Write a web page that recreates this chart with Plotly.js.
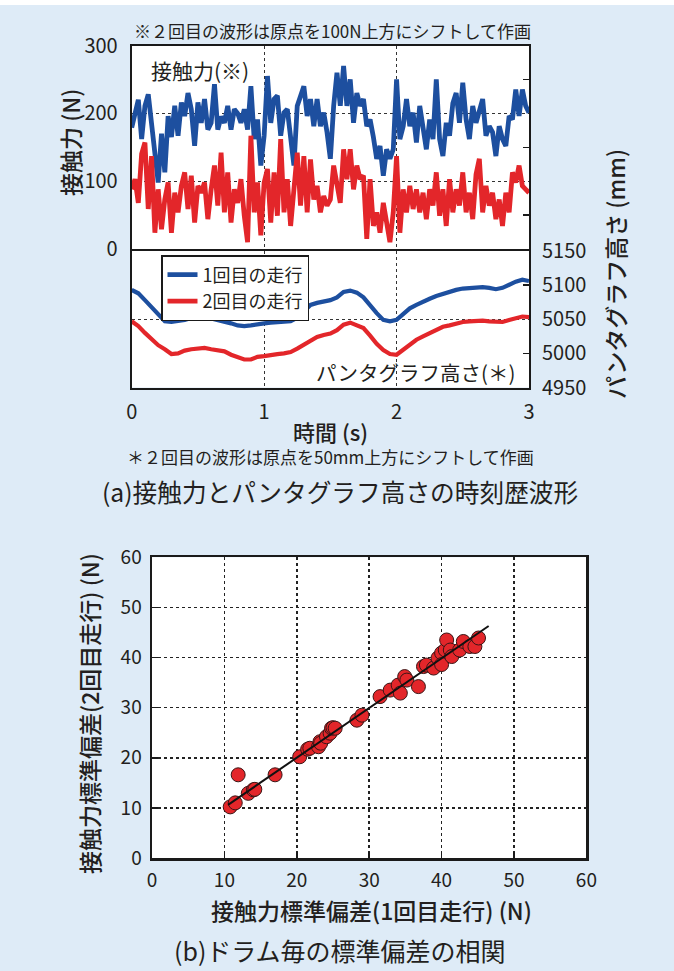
<!DOCTYPE html>
<html>
<head>
<meta charset="utf-8">
<script src="https://cdn.plot.ly/plotly-3.0.1.min.js"></script>
<style>
  html, body { margin: 0; padding: 0; background: #deebf7; }
  #chart { width: 674px; height: 971px; }
</style>
</head>
<body>
<div id="chart"></div>
<script>
// ---- (a) contact force time history, sampled every 0.025 s (N) ----
const forceDt = 0.025;
const forceRun1 = [
  179,200,220,162,211,228,185,150,98,170,
  113,196,165,211,167,216,196,230,206,152,
  216,186,221,176,186,243,176,195,186,211,
  176,206,200,186,206,176,240,162,191,123,
  167,255,186,221,226,167,201,206,162,123,
  211,226,240,196,221,181,221,181,201,172,
  133,211,260,211,270,211,250,186,230,211,
  221,181,191,165,133,152,108,147,133,147,
  250,162,181,221,181,201,157,211,181,147,
  191,162,250,162,137,186,167,215,230,186,
  245,191,162,211,186,205,221,167,181,172,
  137,181,162,152,196,191,235,196,235,211,
  201
];
const forceRun2 = [
  88,103,68,140,157,59,137,24,88,29,
  73,98,24,83,54,93,113,59,108,39,
  93,83,98,44,88,123,64,142,54,113,
  39,88,68,103,49,10,167,54,98,20,
  98,118,39,113,49,162,54,103,34,83,
  142,64,137,54,132,73,93,54,78,64,
  73,123,93,68,147,103,147,88,123,103,
  108,15,103,34,54,24,68,34,10,54,
  137,24,88,54,93,59,88,54,83,44,
  88,64,113,49,88,34,103,54,88,64,
  113,54,83,44,110,133,54,93,64,83,
  44,73,34,83,54,113,98,123,93,88,
  83
];

// ---- (a) pantograph height, sampled every 0.05 s (mm) ----
const heightDt = 0.05;
const heightRun1 = [
  5093,5088,5078,5068,5056,5047,5046,5047,5049,5052,
  5053,5054,5051,5049,5047,5044,5041,5040,5041,5043,
  5044,5045,5046,5046,5047,5052,5062,5071,5074,5076,
  5078,5082,5090,5092,5089,5082,5070,5059,5049,5047,
  5049,5058,5066,5071,5076,5080,5084,5087,5091,5093,
  5095,5096,5097,5097,5096,5094,5096,5101,5105,5108,
  5106
];
const heightRun2 = [
  5047,5040,5030,5021,5012,5006,4999,5000,5004,5006,
  5007,5008,5006,5005,5003,4998,4994,4991,4991,4995,
  4996,4998,4999,5000,5002,5007,5013,5019,5024,5027,
  5029,5034,5042,5045,5041,5037,5026,5014,5005,4999,
  4998,5005,5012,5020,5025,5030,5035,5039,5041,5044,
  5046,5047,5048,5048,5047,5047,5046,5049,5052,5054,
  5053
];

// ---- (b) standard deviation of contact force per drum (N) ----
const sdRun1 = [10.8,11.5,11.9,13.3,14.0,14.2,17.0,20.4,21.5,21.8,23.0,23.2,23.3,24.1,24.6,24.8,25.0,25.3,28.3,29.0,31.5,32.9,34.0,34.3,34.9,35.2,36.8,37.5,37.9,38.9,39.5,40.0,40.0,40.5,40.7,41.2,41.4,42.5,43.0,43.9,44.6,45.1];
const sdRun2 = [10.2,11.0,16.6,12.9,13.6,13.7,16.6,20.2,21.7,21.9,22.2,23.2,22.9,24.2,24.9,25.9,26.0,25.9,27.5,28.5,32.2,33.5,34.5,32.9,36.2,35.5,34.2,38.2,38.5,37.9,39.9,40.9,38.6,41.5,43.5,41.5,40.2,41.5,43.2,42.2,42.2,43.9];
const fitX = [10.5, 46.5];
const fitY = [10.6, 46.3];

// tick labels
const timeTicks = [0, 1, 2, 3];
const forceTicks = [0, 100, 200, 300];
const heightTicks = [4950, 5000, 5050, 5100, 5150];
const sdTicks = [0, 10, 20, 30, 40, 50, 60];

// ---- layout helpers (page pixels -> paper fractions) ----
const W = 674, H = 971;
const fx = x => x / W;
const fy = y => 1 - y / H;

const BLUE = '#1d4f9f';
const RED = '#e3262a';
const INK = '#231f20';
const FONT = '"Noto Sans CJK JP", "Noto Sans", sans-serif';

const xTop = [fx(131.7), fx(529)];
const yForce = [fy(249), fy(45.5)];
const yHeight = [fy(387.5), fy(251)];
const xSc = [fx(152), fx(586.4)];
const ySc = [fy(858), fy(557.3)];

const frame = { showline: true, mirror: true, linecolor: '#1a1a1a', linewidth: 2, zeroline: false, fixedrange: true };
const dotGrid = { showgrid: true, gridcolor: '#333333', griddash: 'dot', gridwidth: 1.2 };
const innerTicks = {
  ticks: 'inside', ticklen: 6, tickwidth: 1.5, tickcolor: '#1a1a1a',
  showticklabels: false, showgrid: false, showline: false, zeroline: false, fixedrange: true
};

// empty series so the overlay axes get their own subplot drawn
const axisHolder = (ya, xa) => ({ type: 'scatter', mode: 'lines', x: [], y: [], xaxis: xa, yaxis: ya,
  showlegend: false, hoverinfo: 'skip' });

const traces = [
  { type: 'scatter', mode: 'lines', name: '1回目の走行', x0: 0, dx: forceDt, y: forceRun1,
    xaxis: 'x', yaxis: 'y', line: { color: BLUE, width: 4.8 } },
  { type: 'scatter', mode: 'lines', name: '2回目の走行', x0: 0, dx: forceDt, y: forceRun2,
    xaxis: 'x', yaxis: 'y', line: { color: RED, width: 4.8 } },
  { type: 'scatter', mode: 'lines', showlegend: false, x0: 0, dx: heightDt, y: heightRun1,
    xaxis: 'x2', yaxis: 'y2', line: { color: BLUE, width: 4.2 } },
  { type: 'scatter', mode: 'lines', showlegend: false, x0: 0, dx: heightDt, y: heightRun2,
    xaxis: 'x2', yaxis: 'y2', line: { color: RED, width: 4.2 } },
  { type: 'scatter', mode: 'markers', showlegend: false, x: sdRun1, y: sdRun2,
    xaxis: 'x3', yaxis: 'y3',
    marker: { size: 14, color: RED, line: { color: '#3a1515', width: 1 } } },
  { type: 'scatter', mode: 'lines', showlegend: false, x: fitX, y: fitY,
    xaxis: 'x3', yaxis: 'y3', line: { color: '#111111', width: 2 } },
  axisHolder('y4', 'x'),
  axisHolder('y5', 'x2'),
  axisHolder('y6', 'x2')
];

function note(text, x, y, size, opts) {
  const o = opts || {};
  return Object.assign({
    text: text, xref: 'paper', yref: 'paper', x: fx(x), y: fy(y),
    xanchor: 'center', yanchor: 'middle', showarrow: false,
    font: { family: FONT, size: size, color: INK, weight: o.weight || 400 }
  }, o.extra || {});
}

const layout = {
  width: W, height: H,
  margin: { l: 0, r: 0, t: 0, b: 0, pad: 0 },
  paper_bgcolor: '#deebf7',
  plot_bgcolor: '#ffffff',
  font: { family: FONT, color: INK, size: 18 },
  showlegend: true,
  legend: {
    x: fx(161), y: fy(255), xanchor: 'left', yanchor: 'top',
    bgcolor: '#ffffff', bordercolor: '#1a1a1a', borderwidth: 1.5,
    font: { family: FONT, size: 18, color: INK },
    itemwidth: 30, tracegroupgap: 0, traceorder: 'normal'
  },
  xaxis: Object.assign({}, frame, dotGrid, {
    domain: xTop, anchor: 'y', range: [0, 3], tickvals: [1, 2],
    showticklabels: false, ticks: ''
  }),
  yaxis: Object.assign({}, frame, dotGrid, {
    domain: yForce, anchor: 'x', range: [0, 300], tickvals: forceTicks,
    ticks: '', tickfont: { size: 20 }, ticklabelstandoff: 8
  }),
  yaxis4: Object.assign({}, innerTicks, {
    overlaying: 'y', anchor: 'x', side: 'right', range: [0, 300], tickvals: [50, 150, 250]
  }),
  xaxis2: Object.assign({}, frame, dotGrid, {
    domain: xTop, anchor: 'y2', range: [0, 3], tickvals: timeTicks,
    ticks: '', tickfont: { size: 20 }, ticklabelstandoff: 5
  }),
  yaxis2: Object.assign({}, frame, dotGrid, {
    domain: yHeight, anchor: 'x2', range: [4950, 5150], tickvals: [5050],
    showticklabels: false, ticks: ''
  }),
  yaxis5: {
    overlaying: 'y2', anchor: 'x2', side: 'right', range: [4950, 5150],
    tickvals: heightTicks, ticks: '', tickfont: { size: 20 }, ticklabelstandoff: 12,
    showgrid: false, showline: false, zeroline: false, fixedrange: true
  },
  yaxis6: Object.assign({}, innerTicks, {
    overlaying: 'y2', anchor: 'x2', side: 'right', range: [4950, 5150], tickvals: [5000, 5100]
  }),
  xaxis3: Object.assign({}, frame, {
    domain: xSc, anchor: 'y3', range: [0, 60], tickvals: sdTicks, linewidth: 2.5,
    ticks: 'inside', ticklen: 6, tickwidth: 1.5, tickcolor: '#1a1a1a',
    showgrid: true, gridcolor: '#222222', griddash: 'dot', gridwidth: 1.5,
    tickfont: { size: 19 }, ticklabelstandoff: 4
  }),
  yaxis3: Object.assign({}, frame, {
    domain: ySc, anchor: 'x3', range: [0, 60], tickvals: sdTicks, linewidth: 2.5,
    ticks: 'inside', ticklen: 6, tickwidth: 1.5, tickcolor: '#1a1a1a',
    showgrid: true, gridcolor: '#222222', griddash: 'dot', gridwidth: 1.5,
    tickfont: { size: 19 }, ticklabelstandoff: 4
  }),
  shapes: [
    { type: 'rect', xref: 'paper', yref: 'paper', x0: 0, x1: 1, y0: fy(5), y1: 1,
      fillcolor: '#ffffff', line: { width: 0 }, layer: 'below' }
  ],
  annotations: [
    note('※２回目の波形は原点を100N上方にシフトして作画', 332, 31, 17),
    note('接触力(※)', 200, 70, 21),
    note('パンタグラフ高さ(＊)', 517, 372, 20.5, { extra: { xanchor: 'right' } }),
    note('接触力 (N)', 70, 143, 23, { weight: 500, extra: { textangle: -90 } }),
    note('パンタグラフ高さ (mm)', 615, 274, 23, { weight: 500, extra: { textangle: -90 } }),
    note('時間 (s)', 330, 431, 22, { weight: 500 }),
    note('＊２回目の波形は原点を50mm上方にシフトして作画', 330, 456, 17),
    note('(a)接触力とパンタグラフ高さの時刻歴波形', 340, 491, 24.7),
    note('接触力標準偏差(2回目走行) (N)', 89, 714, 23, { weight: 500, extra: { textangle: -90 } }),
    note('接触力標準偏差(1回目走行) (N)', 371, 910, 23, { weight: 500 }),
    note('(b)ドラム毎の標準偏差の相関', 340, 950, 25)
  ]
};

Plotly.newPlot('chart', traces, layout, { displayModeBar: false, staticPlot: true });
</script>
</body>
</html>
